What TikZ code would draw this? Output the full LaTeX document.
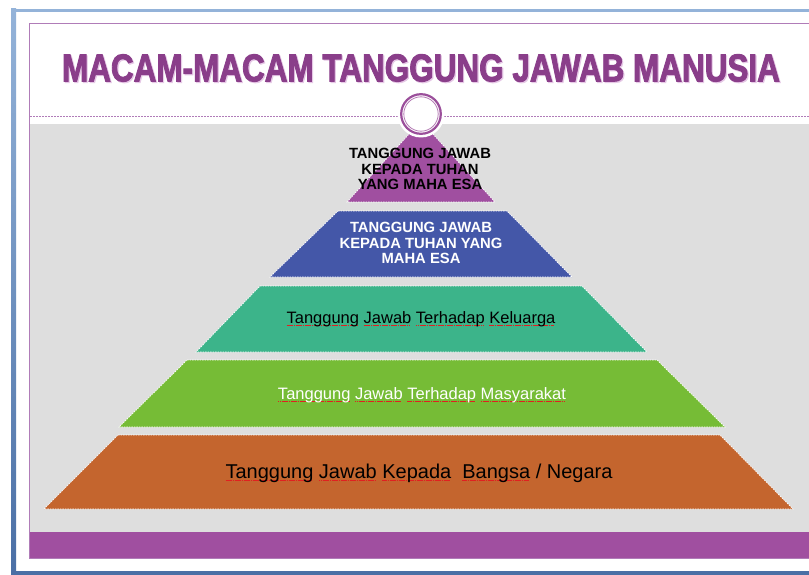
\documentclass[tikz,border=0pt]{standalone}
\usepackage{fontspec}
\setmainfont{Liberation Sans}
\newfontfamily\titlefont{Liberation Sans}[FakeBold=2.6]
\definecolor{frameL}{HTML}{94B3D9}
\definecolor{frameD}{HTML}{4A6FA5}
\definecolor{panelline}{HTML}{B07CB8}
\definecolor{bggray}{HTML}{DEDEDE}
\definecolor{barpurple}{HTML}{A04FA0}
\definecolor{titlecol}{HTML}{8A3E8A}
\definecolor{titleshadow}{HTML}{E6C8E6}
\definecolor{layerA}{HTML}{A04FA0}
\definecolor{layerB}{HTML}{4457A8}
\definecolor{layerC}{HTML}{3CB48A}
\definecolor{layerD}{HTML}{76BC36}
\definecolor{layerE}{HTML}{C4652E}
\definecolor{ringcol}{HTML}{9B4F9B}
\definecolor{squigred}{HTML}{E02020}
\newsavebox\sqbox
\newcommand\sq[1]{\sbox\sqbox{#1}\rlap{\textcolor{squigred}{\leaders\hbox{\rule[-3pt]{1.4pt}{0.8pt}\kern0.4pt}\hskip\wd\sqbox}}\usebox\sqbox}
\tikzset{
  layer/.style={draw=white, dash pattern=on 1.5pt off 1pt, line width=0.7pt},
  caps/.style={align=center, inner sep=0pt, font=\fontsize{14.8}{15.5}\selectfont\bfseries},
  plain/.style={inner sep=0pt, font=\fontsize{16.5}{18}\selectfont}
}
\begin{document}
\begin{tikzpicture}[x=1pt,y=-1pt]
\useasboundingbox (0,0) rectangle (809,575);
\fill[white] (0,0) rectangle (809,575);
% outer frame
\fill[frameL] (11,9) rectangle (809,12);
\shade[top color=frameL,bottom color=frameD] (11,9) rectangle (16,575);
\fill[frameD] (11,571) rectangle (809,575);
% panel
\fill[bggray] (30,124) rectangle (809,532);
\fill[barpurple] (30,532) rectangle (809,558);
\draw[panelline, line width=1.2pt] (809,23.5) -- (29.5,23.5) -- (29.5,558.5) -- (809,558.5);
\draw[panelline, dash pattern=on 2pt off 1pt, line width=0.7pt] (30,116) -- (809,116);
% title
\node[text=titleshadow, inner sep=0pt] (titleshadow) at (422.2,69.2) {\resizebox{718pt}{27pt}{\titlefont\bfseries MACAM-MACAM TANGGUNG JAWAB MANUSIA}};
\node[text=titlecol, inner sep=0pt] (title) at (421,68) {\resizebox{718pt}{27pt}{\titlefont\bfseries MACAM-MACAM TANGGUNG JAWAB MANUSIA}};
% pyramid layers
\filldraw[layer, fill=layerA] (421,121) -- (495,202) -- (347,202) -- cycle;
\filldraw[layer, fill=layerB] (338,211) -- (507,211) -- (572,277) -- (270,277) -- cycle;
\filldraw[layer, fill=layerC] (260,286) -- (582,286) -- (647,352) -- (196,352) -- cycle;
\filldraw[layer, fill=layerD] (187,360) -- (657,360) -- (725,427) -- (119,427) -- cycle;
\filldraw[layer, fill=layerE] (118,435) -- (720,435) -- (793,509) -- (44,509) -- cycle;
% ring
\fill[white] (421,114) circle (23.5);
\draw[ringcol, line width=2.2pt] (421,114) circle (19.8);
\draw[ringcol!75, line width=0.8pt] (421,114) circle (17.2);
% texts
\node[caps, text=black] (tA) at (420,169) {TANGGUNG JAWAB\\KEPADA TUHAN\\YANG MAHA ESA};
\node[caps, text=white] (tB) at (421,243) {TANGGUNG JAWAB\\KEPADA TUHAN YANG\\MAHA ESA};
\node[plain, text=black, anchor=base] (tC) at (421,323) {\sq{Tanggung} \sq{Jawab} \sq{Terhadap} \sq{Keluarga}};
\node[plain, text=white, anchor=base] (tD) at (422,399) {\sq{Tanggung} \sq{Jawab} \sq{Terhadap} \sq{Masyarakat}};
\node[inner sep=0pt, font=\fontsize{20}{22}\selectfont, text=black, anchor=base] (tE) at (419,478) {\sq{Tanggung} \sq{Jawab} \sq{Kepada}\ \ \sq{Bangsa} / Negara};
\end{tikzpicture}
\end{document}
